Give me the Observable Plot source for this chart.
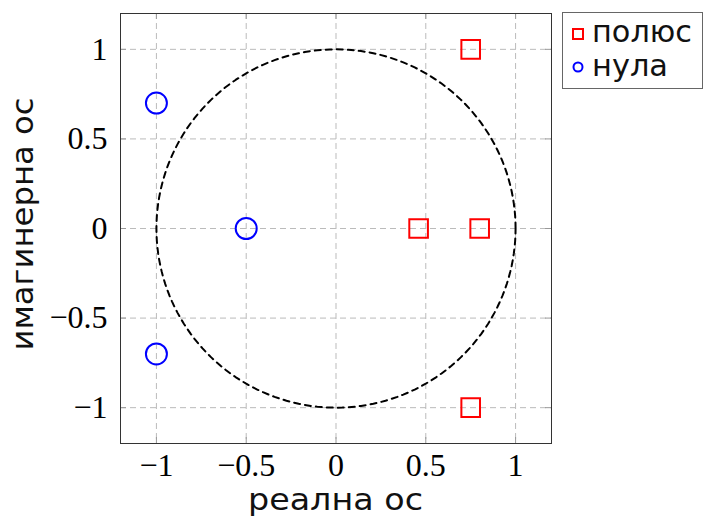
<!DOCTYPE html>
<html>
<head>
<meta charset="utf-8">
<script src="https://cdn.jsdelivr.net/npm/d3@7"></script>
<script src="https://cdn.jsdelivr.net/npm/@observablehq/plot@0.6"></script>
<style>
  html, body { margin: 0; padding: 0; background: #fff; }
  #wrap { position: relative; width: 703px; height: 516px; }
  #legend { position: absolute; left: 562px; top: 12px; }
  .lbl { font-family: 'DejaVu Sans', sans-serif; font-size: 30px; fill: #111; }
</style>
</head>
<body>
<div id="wrap"></div>
<script>
// Poles (red squares) and zeros (blue circles) in the complex plane
const poleRe = [0.75, 0.75, 0.46, 0.8];
const poleIm = [1, -1, 0, 0];
const zeroRe = [-1, -1, -0.5];
const zeroIm = [0.7, -0.7, 0];
const tickValues = [-1, -0.5, 0, 0.5, 1];
const unitRadius = 1;

const poles = poleRe.map((re, i) => ({re, im: poleIm[i]}));
const zeros = zeroRe.map((re, i) => ({re, im: zeroIm[i]}));

// Unit circle outline
const circle = d3.range(0, 361, 2).map(a => ({
  re: unitRadius * Math.cos(a * Math.PI / 180),
  im: unitRadius * Math.sin(a * Math.PI / 180)
}));

const W = 703, H = 516;
const mT = 13, mB = 73, mL = 120, mR = 152;
const innerH = H - mT - mB, innerW = W - mL - mR;
const fmt = d => String(d).replace("-", "\u2212");

const chart = Plot.plot({
  width: W, height: H,
  marginTop: mT, marginBottom: mB, marginLeft: mL, marginRight: mR,
  style: {fontFamily: "'Liberation Serif', serif", background: "#fff"},
  x: {domain: [-1.2, 1.2]},
  y: {domain: [-1.2, 1.2]},
  marks: [
    Plot.gridX(tickValues, {stroke: "#bbb", strokeOpacity: 1, strokeDasharray: "6,4"}),
    Plot.gridY(tickValues, {stroke: "#bbb", strokeOpacity: 1, strokeDasharray: "6,4"}),
    // inward tick marks on all four sides
    Plot.ruleX(tickValues, {stroke: "#999", insetTop: innerH - 6}),
    Plot.ruleX(tickValues, {stroke: "#999", insetBottom: innerH - 6}),
    Plot.ruleY(tickValues, {stroke: "#999", insetRight: innerW - 6}),
    Plot.ruleY(tickValues, {stroke: "#999", insetLeft: innerW - 6}),
    Plot.axisX(tickValues, {tickSize: 0, tickPadding: 10, fontSize: 32, label: null, fill: "#000", tickFormat: fmt}),
    Plot.axisY(tickValues, {tickSize: 0, tickPadding: 13, fontSize: 32, label: null, fill: "#000", tickFormat: fmt}),
    Plot.frame({stroke: "#333", strokeOpacity: 1}),
    Plot.line(circle, {x: "re", y: "im", stroke: "#000", strokeWidth: 2, strokeDasharray: "6,5"}),
    Plot.dot(poles, {x: "re", y: "im", symbol: "square", r: 10.5, stroke: "#f00", strokeWidth: 2, fill: "none"}),
    Plot.dot(zeros, {x: "re", y: "im", symbol: "circle", r: 10.5, stroke: "#00f", strokeWidth: 2, fill: "none"})
  ]
});

const svg = d3.select(chart);
svg.append("text").attr("class", "lbl")
  .attr("x", mL + innerW / 2).attr("y", 510)
  .attr("text-anchor", "middle")
  .attr("textLength", 175).attr("lengthAdjust", "spacingAndGlyphs")
  .text("реална ос");
svg.append("text").attr("class", "lbl")
  .attr("transform", `translate(33,224) rotate(-90)`)
  .attr("text-anchor", "middle")
  .attr("textLength", 253).attr("lengthAdjust", "spacingAndGlyphs")
  .text("имагинерна ос");

const wrap = document.getElementById("wrap");
wrap.appendChild(chart);

// Legend box
const legend = d3.select(wrap).append("svg")
  .attr("id", "legend").attr("width", 141).attr("height", 78);
legend.append("rect").attr("x", 0.5).attr("y", 0.5).attr("width", 140).attr("height", 76)
  .attr("fill", "#fff").attr("stroke", "#666");
legend.append("rect").attr("x", 11).attr("y", 17).attr("width", 10).attr("height", 10)
  .attr("fill", "none").attr("stroke", "#f00").attr("stroke-width", 2);
legend.append("circle").attr("cx", 16).attr("cy", 55).attr("r", 4.5)
  .attr("fill", "none").attr("stroke", "#00f").attr("stroke-width", 2);
legend.append("text").attr("class", "lbl").attr("x", 30).attr("y", 30)
  .attr("textLength", 100).attr("lengthAdjust", "spacingAndGlyphs")
  .text("полюс");
legend.append("text").attr("class", "lbl").attr("x", 30).attr("y", 64)
  .attr("textLength", 76).attr("lengthAdjust", "spacingAndGlyphs")
  .text("нула");
</script>
</body>
</html>
